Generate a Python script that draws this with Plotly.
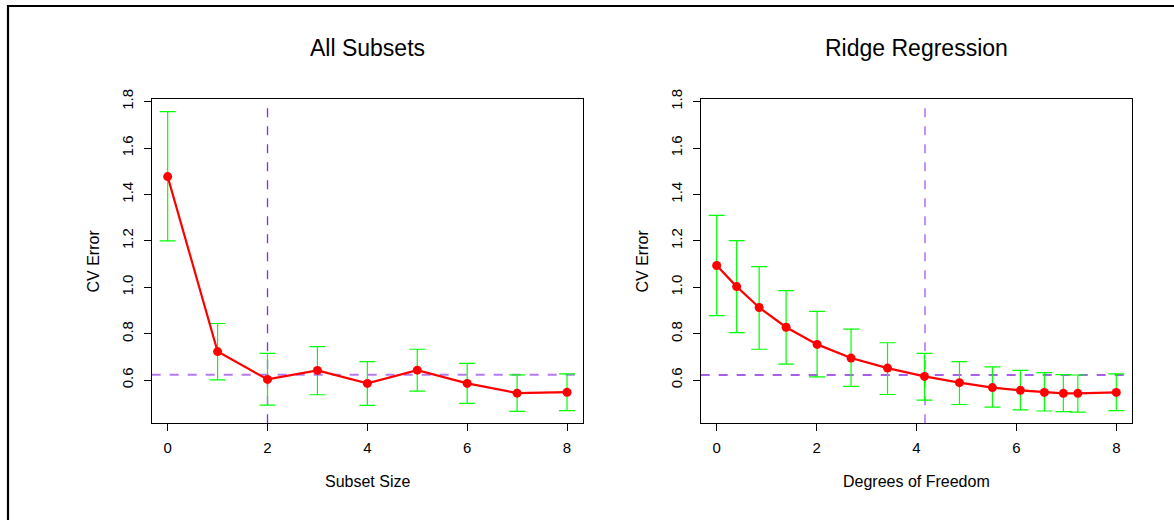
import plotly.graph_objects as go

W, H = 1174, 520

# ---- data: All Subsets ----
subset_size = [0, 1, 2, 3, 4, 5, 6, 7, 8]
subset_cv = [1.477, 0.723, 0.603, 0.642, 0.586, 0.643, 0.586, 0.544, 0.548]
subset_upper = [1.757, 0.844, 0.715, 0.744, 0.680, 0.733, 0.672, 0.623, 0.627]
subset_lower = [1.200, 0.601, 0.492, 0.537, 0.491, 0.553, 0.500, 0.465, 0.469]
subset_best = 2
subset_threshold = 0.623

# ---- data: Ridge Regression ----
ridge_df = [0.0, 0.40, 0.85, 1.39, 2.01, 2.69, 3.42, 4.16, 4.86, 5.52, 6.08, 6.56, 6.94, 7.23, 8.0]
ridge_cv = [1.094, 1.003, 0.913, 0.828, 0.754, 0.695, 0.652, 0.616, 0.589, 0.568, 0.556, 0.547, 0.543, 0.543, 0.547]
ridge_upper = [1.310, 1.201, 1.089, 0.986, 0.896, 0.820, 0.761, 0.715, 0.680, 0.657, 0.642, 0.632, 0.624, 0.622, 0.627]
ridge_lower = [0.878, 0.805, 0.733, 0.669, 0.614, 0.573, 0.538, 0.514, 0.495, 0.484, 0.472, 0.467, 0.464, 0.462, 0.469]
ridge_best = 4.17
ridge_threshold = 0.622

titles = ["All Subsets", "Ridge Regression"]
xlabels = ["Subset Size", "Degrees of Freedom"]
ylabel = "CV Error"
y_ticks = [0.6, 0.8, 1.0, 1.2, 1.4, 1.6, 1.8]
x_ticks = [0, 2, 4, 6, 8]

FONT = "Liberation Sans"
GREEN = "#00FF00"
RED = "#FF0000"
DARK_PURPLE = "#8A2BE2"
LIGHT_PURPLE = "#B57AF2"

# plot boxes in pixels
boxes = [(151.7, 583.0), (700.7, 1132.3)]
box_top, box_bottom = 99.3, 423.3

fig = go.Figure()

panels = [
    (subset_size, subset_cv, subset_upper, subset_lower, subset_best, subset_threshold,
     DARK_PURPLE, 1.3, LIGHT_PURPLE, 2.0),
    (ridge_df, ridge_cv, ridge_upper, ridge_lower, ridge_best, ridge_threshold,
     LIGHT_PURPLE, 1.6, DARK_PURPLE, 1.3),
]

shapes = []
annotations = []
for i, (xs, ys, up, lo, best, thr, vcol, vw, hcol, hw) in enumerate(panels):
    xa = "x" if i == 0 else "x2"
    ya = "y" if i == 0 else "y2"
    plus = [u - y for u, y in zip(up, ys)]
    minus = [y - l for y, l in zip(ys, lo)]
    fig.add_trace(go.Scatter(
        x=xs, y=ys, mode="markers", marker=dict(size=1, color="rgba(0,0,0,0)"),
        error_y=dict(type="data", array=plus, arrayminus=minus, color=GREEN,
                     thickness=1.2, width=8),
        xaxis=xa, yaxis=ya, showlegend=False, hoverinfo="skip"))
    fig.add_trace(go.Scatter(
        x=xs, y=ys, mode="lines+markers",
        line=dict(color=RED, width=2.2),
        marker=dict(color=RED, size=9),
        xaxis=xa, yaxis=ya, showlegend=False))
    xref_dom = ("x" if i == 0 else "x2") + " domain"
    yref_dom = ("y" if i == 0 else "y2") + " domain"
    shapes.append(dict(type="line", xref=xa, yref=yref_dom, x0=best, x1=best, y0=0, y1=1,
                       line=dict(color=vcol, width=vw, dash="dash"), layer="below"))
    shapes.append(dict(type="line", xref=xref_dom, yref=ya, x0=0, x1=1, y0=thr, y1=thr,
                       line=dict(color=hcol, width=hw, dash="dash"), layer="below"))
    cx = (boxes[i][0] + boxes[i][1]) / 2 / W
    annotations.append(dict(text=titles[i], x=cx, y=1 - 48 / H, xref="paper", yref="paper",
                            showarrow=False, font=dict(family=FONT, size=23, color="black"),
                            xanchor="center", yanchor="middle"))
    annotations.append(dict(text=xlabels[i], x=cx, y=1 - 481 / H, xref="paper", yref="paper",
                            showarrow=False, font=dict(family=FONT, size=16, color="black"),
                            xanchor="center", yanchor="middle"))
    annotations.append(dict(text=ylabel, x=(boxes[i][0] - 58.5) / W,
                            y=1 - (box_top + box_bottom) / 2 / H, xref="paper", yref="paper",
                            showarrow=False, textangle=-90,
                            font=dict(family=FONT, size=16, color="black"),
                            xanchor="center", yanchor="middle"))

# outer frame
shapes.append(dict(type="rect", xref="paper", yref="paper",
                   x0=8 / W, x1=1.02, y0=-0.05, y1=1 - 6 / H,
                   line=dict(color="black", width=2.2), fillcolor="rgba(0,0,0,0)", layer="above"))

axis_common = dict(showgrid=False, zeroline=False, showline=True, mirror=True,
                   linecolor="black", linewidth=1, ticks="outside", ticklen=7,
                   tickcolor="black", automargin=False,
                   tickfont=dict(family=FONT, size=15, color="black"))

ydom = [1 - box_bottom / H, 1 - box_top / H]
layout = dict(
    width=W, height=H, autosize=False,
    margin=dict(l=0, r=0, t=0, b=0, pad=0, autoexpand=False),
    paper_bgcolor="white", plot_bgcolor="white",
    shapes=shapes, annotations=annotations,
    xaxis=dict(domain=[boxes[0][0] / W, boxes[0][1] / W], range=[-0.32, 8.32],
               tickvals=x_ticks, anchor="y", ticklabelstandoff=4, **axis_common),
    yaxis=dict(domain=ydom, range=[0.414, 1.81], tickvals=y_ticks,
               ticktext=[f"{v:.1f}" for v in y_ticks], tickangle=-90,
               anchor="x", ticklabelstandoff=5, **axis_common),
    xaxis2=dict(domain=[boxes[1][0] / W, boxes[1][1] / W], range=[-0.32, 8.32],
                tickvals=x_ticks, anchor="y2", ticklabelstandoff=4, **axis_common),
    yaxis2=dict(domain=ydom, range=[0.414, 1.81], tickvals=y_ticks,
                ticktext=[f"{v:.1f}" for v in y_ticks], tickangle=-90,
                anchor="x2", ticklabelstandoff=5, **axis_common),
)
fig.update_layout(**layout)
fig.write_html(
    "out.html",
    config={"displayModeBar": False},
    post_script="document.body.style.margin='0';document.body.style.overflow='hidden';",
)
